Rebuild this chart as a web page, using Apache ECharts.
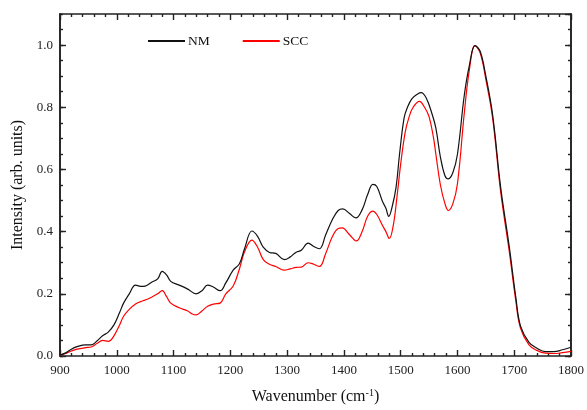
<!DOCTYPE html>
<html>
<head>
<meta charset="utf-8">
<script src="https://cdn.jsdelivr.net/npm/echarts@6/dist/echarts.min.js"></script>
<style>html,body{margin:0;padding:0;background:#fff}#c{width:587px;height:410px}</style>
</head>
<body>
<div id="c"></div>
<script>
const seriesNames = ['NM', 'SCC'];
const nmData = [[900,0.003],[910,0.01],[920,0.022],[930,0.03],[945,0.036],[955,0.036],[965,0.048],[975,0.065],[985,0.077],[995,0.1],[1005,0.14],[1012,0.17],[1022,0.2],[1033,0.228],[1042,0.224],[1050,0.225],[1062,0.238],[1072,0.248],[1080,0.272],[1088,0.26],[1095,0.24],[1110,0.228],[1125,0.215],[1140,0.2],[1150,0.21],[1160,0.228],[1170,0.222],[1182,0.21],[1192,0.235],[1205,0.276],[1216,0.297],[1225,0.345],[1238,0.402],[1248,0.385],[1258,0.35],[1269,0.333],[1280,0.33],[1295,0.31],[1305,0.318],[1316,0.334],[1325,0.34],[1337,0.363],[1347,0.352],[1357,0.345],[1368,0.39],[1380,0.44],[1390,0.468],[1398,0.473],[1410,0.458],[1421,0.444],[1432,0.47],[1442,0.52],[1451,0.552],[1458,0.545],[1468,0.497],[1474,0.475],[1479,0.449],[1485,0.48],[1492,0.544],[1498,0.649],[1506,0.765],[1512,0.8],[1520,0.828],[1530,0.843],[1536,0.847],[1545,0.83],[1555,0.78],[1562,0.733],[1570,0.64],[1578,0.58],[1584,0.57],[1592,0.59],[1600,0.649],[1612,0.838],[1621,0.935],[1631,0.998],[1640,0.98],[1650,0.9],[1662,0.775],[1676,0.544],[1691,0.355],[1703,0.186],[1711,0.097],[1726,0.044],[1740,0.025],[1755,0.014],[1770,0.014],[1785,0.02],[1800,0.028]];
const sccData = [[900,0.003],[910,0.008],[920,0.016],[930,0.022],[945,0.027],[955,0.029],[965,0.04],[975,0.05],[985,0.047],[995,0.065],[1005,0.1],[1012,0.128],[1022,0.15],[1033,0.167],[1042,0.175],[1050,0.18],[1062,0.19],[1072,0.2],[1080,0.21],[1088,0.19],[1095,0.17],[1110,0.155],[1125,0.145],[1133,0.135],[1140,0.132],[1150,0.145],[1160,0.16],[1170,0.167],[1182,0.17],[1192,0.2],[1205,0.225],[1216,0.28],[1225,0.335],[1238,0.373],[1248,0.35],[1258,0.31],[1269,0.295],[1280,0.288],[1295,0.276],[1305,0.28],[1316,0.285],[1325,0.286],[1337,0.3],[1347,0.295],[1357,0.288],[1368,0.33],[1380,0.385],[1390,0.41],[1397,0.412],[1410,0.39],[1422,0.37],[1432,0.4],[1442,0.45],[1451,0.466],[1458,0.455],[1468,0.42],[1474,0.4],[1480,0.378],[1487,0.42],[1494,0.52],[1500,0.617],[1508,0.72],[1515,0.77],[1522,0.8],[1533,0.819],[1542,0.8],[1550,0.77],[1558,0.7],[1562,0.649],[1570,0.55],[1578,0.49],[1584,0.468],[1592,0.49],[1600,0.554],[1612,0.78],[1621,0.92],[1631,0.998],[1640,0.975],[1650,0.89],[1662,0.765],[1676,0.53],[1691,0.34],[1703,0.175],[1711,0.09],[1726,0.036],[1740,0.018],[1755,0.009],[1770,0.008],[1785,0.011],[1800,0.015]];
const xMin = 900, xMax = 1800, xStep = 100;
const yMin = 0, yMax = 1.1, yStep = 0.2, yMinorStep = 0.05;

const FONT = "'Liberation Serif', 'Times New Roman', serif";
const axisLineStyle = {color: '#222', width: 1.6};
const chart = echarts.init(document.getElementById('c'));

function yAx(pos, major, showLabel) {
  return {
    type: 'value', position: pos, min: yMin, max: yMax, offset: 0,
    interval: major ? yStep : yMinorStep,
    axisLine: {show: true, onZero: false, lineStyle: axisLineStyle},
    axisTick: {show: true, inside: true, length: major ? 6 : 3, lineStyle: {color: '#222', width: 1.4}},
    axisLabel: {show: showLabel, showMaxLabel: false, color: '#222', fontFamily: FONT, fontSize: 13, margin: 7,
      formatter: v => v.toFixed(1)},
    splitLine: {show: false},
    name: showLabel ? 'Intensity (arb. units)' : '',
    nameLocation: 'middle', nameGap: 33, nameRotate: 90,
    nameTextStyle: {color: '#111', fontFamily: FONT, fontSize: 16}
  };
}
function xAx(pos, showLabel) {
  return {
    type: 'value', position: pos, min: xMin, max: xMax, interval: xStep, offset: 0,
    axisLine: {show: true, onZero: false, lineStyle: axisLineStyle},
    axisTick: {show: true, inside: true, length: 6, lineStyle: {color: '#222', width: 1.4}},
    minorTick: {show: true, splitNumber: 5, length: 3, lineStyle: {color: '#222', width: 1.4}},
    axisLabel: {show: showLabel, color: '#222', fontFamily: FONT, fontSize: 13, margin: 8,
      formatter: v => String(v)},
    splitLine: {show: false}, minorSplitLine: {show: false},
    name: showLabel ? '{a|Wavenumber (cm}{s|-1}{a|)}' : '',
    nameLocation: 'middle', nameGap: 32,
    nameTextStyle: {rich: {a: {color: '#111', fontFamily: FONT, fontSize: 16}, s: {color: '#111', fontFamily: FONT, fontSize: 10, verticalAlign: 'top', padding: [0,0,8,0]}}}
  };
}

chart.setOption({
  animation: false,
  backgroundColor: '#fff',
  grid: {left: 60, right: 15, top: 14, bottom: 46, containLabel: false},
  legend: {
    data: seriesNames, left: 143, top: 29, itemWidth: 37, itemHeight: 2, itemGap: 33,
    icon: 'rect',
    textStyle: {color: '#111', fontFamily: FONT, fontSize: 13.5, padding: [0,0,0,-2]}
  },
  xAxis: [xAx('bottom', true), xAx('top', false)],
  yAxis: [yAx('left', true, true), yAx('left', false, false), yAx('right', true, false), yAx('right', false, false)],
  series: [
    {name: seriesNames[0], type: 'line', data: nmData, smooth: 0.4, showSymbol: false, symbol: 'none',
     lineStyle: {color: '#111', width: 1.2}, itemStyle: {color: '#111'}, z: 3},
    {name: seriesNames[1], type: 'line', data: sccData, smooth: 0.4, showSymbol: false, symbol: 'none',
     lineStyle: {color: '#f00', width: 1.2}, itemStyle: {color: '#f00'}, z: 2}
  ]
});
</script>
</body>
</html>
